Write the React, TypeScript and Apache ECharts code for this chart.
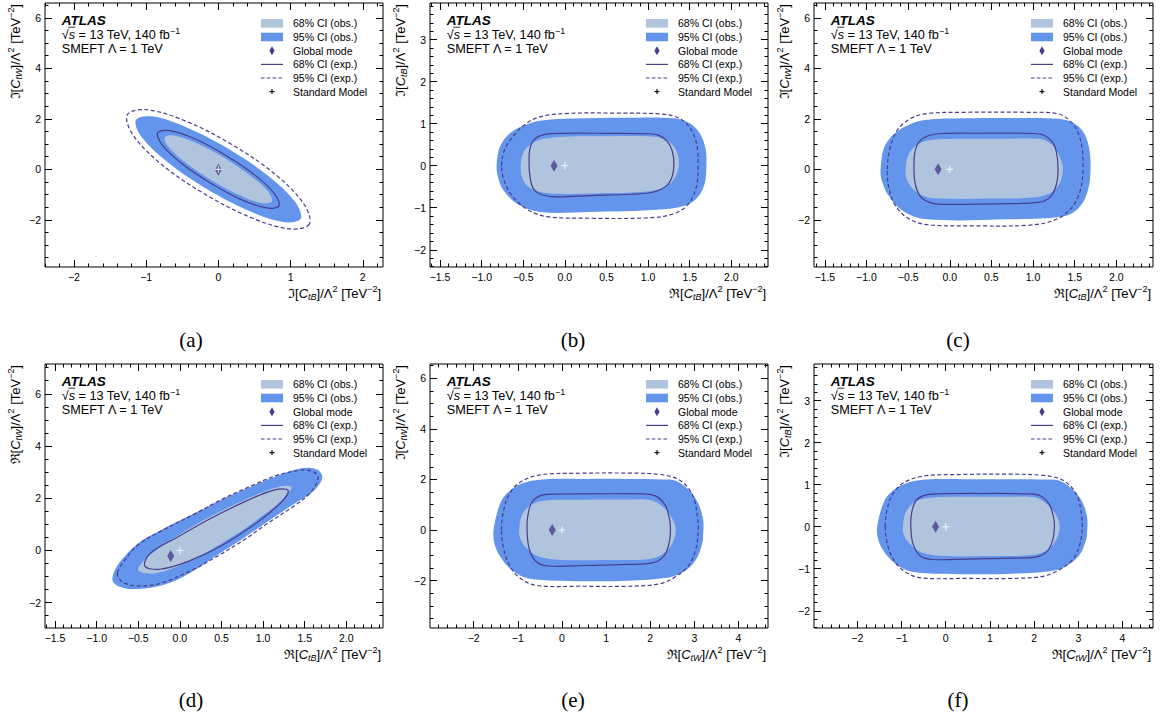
import React, { useEffect, useRef } from "react";
import * as echarts from "echarts";

// ---------------- tick labels ----------------
const X_TICKS_A = [-2, -1, 0, 1, 2];
const X_TICKS_HALF = [-1.5, -1.0, -0.5, 0.0, 0.5, 1.0, 1.5, 2.0];
const X_TICKS_UNIT = [-2, -1, 0, 1, 2, 3, 4];
const Y_TICKS_EVEN = [-2, 0, 2, 4, 6];
const Y_TICKS_UNIT = [-2, -1, 0, 1, 2, 3];

// ---------------- texts ----------------
const LEGEND_LABELS = ["68% CI (obs.)", "95% CI (obs.)", "Global mode", "68% CI (exp.)", "95% CI (exp.)", "Standard Model"];
const CAPTIONS = ["(a)", "(b)", "(c)", "(d)", "(e)", "(f)"];
const X_TITLES = [["ℑ", "tB"], ["ℜ", "tB"], ["ℜ", "tB"], ["ℜ", "tB"], ["ℜ", "tW"], ["ℜ", "tW"]];
const Y_TITLES = [["ℑ", "tW"], ["ℑ", "tB"], ["ℑ", "tW"], ["ℜ", "tW"], ["ℑ", "tW"], ["ℑ", "tB"]];

// ---------------- points ----------------
const SM_POINT = [0, 0];
const MODE_A = [0.0, -0.02];
const MODE_B = [-0.13, 0.0];
const MODE_C = [-0.14, 0.0];
const MODE_D = [-0.11, -0.21];
const MODE_E = [-0.22, 0.0];
const MODE_F = [-0.23, 0.0];

// ---------------- panel (a) contours ----------------
const A_OBS95 = [[1.14, -1.96], [0.9, -2.09], [0.43, -1.65], [-0.16, -0.78], [-0.71, 0.3], [-1.07, 1.31], [-1.14, 1.96], [-0.9, 2.09], [-0.43, 1.65], [0.16, 0.78], [0.71, -0.3], [1.07, -1.31]];
const A_OBS68 = [[0.74, -1.28], [0.59, -1.33], [0.29, -1.02], [-0.09, -0.44], [-0.45, 0.26], [-0.69, 0.88], [-0.74, 1.28], [-0.59, 1.33], [-0.29, 1.02], [0.09, 0.44], [0.45, -0.26], [0.69, -0.88]];
const A_EXP68 = [[0.84, -1.45], [0.67, -1.53], [0.32, -1.2], [-0.11, -0.54], [-0.52, 0.26], [-0.78, 0.98], [-0.84, 1.45], [-0.67, 1.53], [-0.32, 1.2], [0.11, 0.54], [0.52, -0.26], [0.78, -0.98]];
const A_EXP95 = [[1.26, -2.17], [0.99, -2.36], [0.46, -1.92], [-0.2, -0.96], [-0.81, 0.25], [-1.19, 1.4], [-1.26, 2.17], [-0.99, 2.36], [-0.46, 1.92], [0.2, 0.96], [0.81, -0.25], [1.19, -1.4]];

// ---------------- panel (b) contours ----------------
const B_OBS95 = [[-0.82, 0.0], [-0.78, 0.45], [-0.66, 0.77], [-0.5, 0.95], [-0.3, 1.07], [0.1, 1.12], [0.7, 1.14], [1.3, 1.13], [1.5, 1.01], [1.62, 0.77], [1.69, 0.4], [1.7, 0.0], [1.68, -0.42], [1.6, -0.74], [1.46, -0.94], [1.1, -1.05], [0.3, -1.1], [-0.3, -1.1], [-0.58, -0.9], [-0.74, -0.58], [-0.8, -0.3]];
const B_OBS68 = [[-0.53, 0.0], [-0.5, 0.3], [-0.4, 0.52], [-0.25, 0.64], [0.0, 0.69], [0.5, 0.7], [1.0, 0.7], [1.15, 0.66], [1.28, 0.52], [1.35, 0.3], [1.37, 0.05], [1.34, -0.22], [1.25, -0.45], [1.1, -0.58], [0.8, -0.64], [0.3, -0.66], [-0.1, -0.67], [-0.3, -0.62], [-0.44, -0.5], [-0.51, -0.3]];
const B_EXP68 = [[-0.43, 0.05], [-0.42, 0.4], [-0.37, 0.62], [-0.25, 0.74], [-0.05, 0.77], [0.5, 0.77], [1.0, 0.76], [1.13, 0.72], [1.23, 0.58], [1.29, 0.35], [1.31, 0.05], [1.29, -0.25], [1.22, -0.48], [1.08, -0.62], [0.8, -0.68], [0.3, -0.71], [-0.1, -0.74], [-0.28, -0.69], [-0.38, -0.54], [-0.42, -0.25]];
const B_EXP95 = [[-0.76, 0.0], [-0.73, 0.35], [-0.64, 0.65], [-0.5, 0.95], [-0.32, 1.15], [0.0, 1.24], [0.6, 1.25], [1.2, 1.22], [1.4, 1.1], [1.52, 0.85], [1.59, 0.45], [1.6, 0.0], [1.58, -0.5], [1.48, -0.92], [1.3, -1.15], [1.0, -1.24], [0.3, -1.25], [-0.22, -1.21], [-0.46, -1.03], [-0.64, -0.7], [-0.73, -0.35]];

// ---------------- panel (c) contours ----------------
const C_OBS95 = [[-0.83, 0.0], [-0.79, 0.85], [-0.67, 1.4], [-0.5, 1.75], [-0.3, 1.95], [0.2, 2.02], [0.8, 2.03], [1.3, 2.0], [1.48, 1.85], [1.6, 1.5], [1.67, 0.9], [1.69, 0.0], [1.66, -0.82], [1.56, -1.48], [1.38, -1.85], [0.7, -1.98], [-0.3, -1.97], [-0.58, -1.61], [-0.74, -1.02], [-0.82, -0.4]];
const C_OBS68 = [[-0.53, 0.0], [-0.5, 0.55], [-0.4, 0.95], [-0.25, 1.15], [0.0, 1.2], [0.6, 1.21], [1.06, 1.21], [1.18, 1.09], [1.28, 0.76], [1.35, 0.2], [1.35, -0.25], [1.3, -0.65], [1.2, -0.95], [1.0, -1.12], [0.5, -1.16], [-0.1, -1.16], [-0.3, -1.08], [-0.45, -0.75], [-0.52, -0.35]];
const C_EXP68 = [[-0.43, 0.0], [-0.42, 0.65], [-0.37, 1.08], [-0.26, 1.33], [-0.08, 1.42], [0.3, 1.43], [1.0, 1.42], [1.13, 1.35], [1.23, 1.1], [1.28, 0.7], [1.3, 0.0], [1.28, -0.6], [1.21, -1.08], [1.08, -1.3], [0.7, -1.36], [0.0, -1.39], [-0.2, -1.35], [-0.34, -1.12], [-0.41, -0.65]];
const C_EXP95 = [[-0.75, 0.0], [-0.72, 0.8], [-0.64, 1.5], [-0.5, 1.95], [-0.3, 2.2], [0.2, 2.26], [0.9, 2.26], [1.3, 2.2], [1.45, 1.9], [1.54, 1.45], [1.59, 0.8], [1.6, 0.0], [1.57, -0.8], [1.48, -1.45], [1.3, -1.95], [1.0, -2.2], [0.3, -2.24], [-0.3, -2.18], [-0.52, -1.9], [-0.66, -1.4], [-0.73, -0.75]];

// ---------------- panel (d) contours ----------------
const D_OBS95 = [[-0.81, -1.06], [-0.78, -0.75], [-0.7, -0.36], [-0.5, 0.28], [-0.22, 0.79], [0.18, 1.43], [0.5, 1.94], [0.82, 2.4], [1.14, 2.82], [1.38, 3.09], [1.54, 3.17], [1.66, 3.08], [1.71, 2.84], [1.68, 2.55], [1.58, 2.2], [1.38, 1.8], [1.06, 1.12], [0.76, 0.46], [0.45, -0.17], [0.18, -0.75], [-0.05, -1.15], [-0.3, -1.4], [-0.58, -1.48], [-0.73, -1.38], [-0.8, -1.22]];
const D_OBS68 = [[1.34, 2.43], [1.25, 2.01], [0.94, 1.2], [0.49, 0.25], [0.05, -0.5], [-0.3, -0.88], [-0.5, -0.76], [-0.41, -0.32], [-0.1, 0.42], [0.35, 1.27], [0.82, 2.0], [1.18, 2.43]];
const D_EXP68 = [[1.3, 2.3], [1.22, 1.85], [0.94, 1.1], [0.52, 0.22], [0.1, -0.42], [-0.24, -0.72], [-0.42, -0.6], [-0.36, -0.12], [-0.04, 0.49], [0.38, 1.24], [0.8, 1.9], [1.14, 2.32]];
const D_EXP95 = [[-0.75, -0.85], [-0.68, -0.45], [-0.5, 0.22], [-0.22, 0.75], [0.18, 1.4], [0.5, 1.95], [0.82, 2.42], [1.14, 2.85], [1.38, 3.04], [1.52, 3.08], [1.62, 2.98], [1.66, 2.8], [1.63, 2.5], [1.55, 2.15], [1.38, 1.72], [1.06, 1.05], [0.76, 0.38], [0.45, -0.22], [0.18, -0.7], [-0.22, -1.25], [-0.5, -1.36], [-0.66, -1.26], [-0.73, -1.08]];

// ---------------- panel (e) contours ----------------
const E_OBS95 = [[-1.55, 0.0], [-1.4, 1.05], [-1.21, 1.51], [-0.91, 1.84], [-0.45, 2.0], [0.5, 2.02], [1.5, 2.02], [2.3, 2.0], [2.58, 1.95], [2.88, 1.58], [3.09, 1.05], [3.2, 0.4], [3.2, -0.2], [3.18, -0.53], [3.03, -1.19], [2.76, -1.65], [2.42, -1.87], [1.5, -2.0], [0.5, -2.02], [-0.76, -1.91], [-1.14, -1.58], [-1.4, -1.05], [-1.53, -0.53]];
const E_OBS68 = [[-0.97, 0.0], [-0.9, 0.6], [-0.7, 1.0], [-0.4, 1.16], [0.3, 1.2], [1.5, 1.21], [2.0, 1.19], [2.27, 0.95], [2.5, 0.45], [2.58, 0.0], [2.5, -0.53], [2.31, -0.92], [2.0, -1.14], [1.0, -1.18], [0.0, -1.18], [-0.53, -1.05], [-0.83, -0.66], [-0.95, -0.3]];
const E_EXP68 = [[-0.79, 0.0], [-0.77, 0.6], [-0.68, 1.1], [-0.5, 1.35], [-0.2, 1.42], [0.8, 1.43], [1.9, 1.42], [2.15, 1.32], [2.35, 0.95], [2.44, 0.4], [2.46, 0.0], [2.42, -0.59], [2.3, -1.05], [2.05, -1.3], [1.5, -1.36], [0.5, -1.4], [-0.3, -1.42], [-0.58, -1.25], [-0.74, -0.75]];
const E_EXP95 = [[-1.37, 0.0], [-1.33, 0.7], [-1.22, 1.32], [-0.99, 1.84], [-0.53, 2.17], [0.3, 2.24], [1.5, 2.25], [2.2, 2.2], [2.58, 2.05], [2.82, 1.75], [2.99, 1.25], [3.07, 0.53], [3.09, 0.0], [3.03, -0.79], [2.88, -1.38], [2.58, -1.84], [2.2, -2.13], [1.5, -2.22], [0.5, -2.22], [-0.6, -2.18], [-0.99, -1.84], [-1.21, -1.32], [-1.33, -0.66]];

// ---------------- panel (f) contours ----------------
const F_OBS95 = [[-1.55, 0.0], [-1.4, 0.59], [-1.21, 0.85], [-0.91, 1.03], [-0.45, 1.12], [0.5, 1.13], [1.5, 1.13], [2.3, 1.12], [2.58, 1.09], [2.88, 0.88], [3.09, 0.59], [3.2, 0.22], [3.2, -0.11], [3.18, -0.3], [3.03, -0.67], [2.76, -0.92], [2.42, -1.05], [1.5, -1.12], [0.5, -1.13], [-0.76, -1.07], [-1.14, -0.88], [-1.4, -0.59], [-1.53, -0.3]];
const F_OBS68 = [[-0.97, 0.0], [-0.9, 0.35], [-0.7, 0.59], [-0.4, 0.68], [0.3, 0.71], [1.5, 0.71], [2.0, 0.7], [2.27, 0.56], [2.5, 0.27], [2.58, 0.0], [2.5, -0.31], [2.31, -0.54], [2.0, -0.67], [1.0, -0.7], [0.0, -0.7], [-0.53, -0.62], [-0.83, -0.39], [-0.95, -0.18]];
const F_EXP68 = [[-0.79, 0.0], [-0.77, 0.33], [-0.68, 0.61], [-0.5, 0.74], [-0.2, 0.78], [0.8, 0.79], [1.9, 0.78], [2.15, 0.73], [2.35, 0.52], [2.44, 0.22], [2.46, 0.0], [2.42, -0.32], [2.3, -0.58], [2.05, -0.72], [1.5, -0.75], [0.5, -0.77], [-0.3, -0.78], [-0.58, -0.69], [-0.74, -0.41]];
const F_EXP95 = [[-1.37, 0.0], [-1.33, 0.39], [-1.22, 0.73], [-0.99, 1.02], [-0.53, 1.2], [0.3, 1.24], [1.5, 1.25], [2.2, 1.22], [2.58, 1.14], [2.82, 0.97], [2.99, 0.69], [3.07, 0.29], [3.09, 0.0], [3.03, -0.44], [2.88, -0.77], [2.58, -1.02], [2.2, -1.18], [1.5, -1.23], [0.5, -1.23], [-0.6, -1.21], [-0.99, -1.02], [-1.21, -0.73], [-1.33, -0.37]];

// ---------------- panels: data + axis ranges ----------------
const PANELS = [
  { xRange: [-2.4, 2.28], yRange: [-3.87, 6.59], xTicks: X_TICKS_A, yTicks: Y_TICKS_EVEN, xMinor: 0.2, yMinor: 0.5, xDec: 0, obs95: A_OBS95, obs68: A_OBS68, exp68: A_EXP68, exp95: A_EXP95, mode: MODE_A },
  { xRange: [-1.62, 2.44], yRange: [-2.41, 3.87], xTicks: X_TICKS_HALF, yTicks: Y_TICKS_UNIT, xMinor: 0.1, yMinor: 0.2, xDec: 1, obs95: B_OBS95, obs68: B_OBS68, exp68: B_EXP68, exp95: B_EXP95, mode: MODE_B },
  { xRange: [-1.63, 2.44], yRange: [-3.87, 6.59], xTicks: X_TICKS_HALF, yTicks: Y_TICKS_EVEN, xMinor: 0.1, yMinor: 0.5, xDec: 1, obs95: C_OBS95, obs68: C_OBS68, exp68: C_EXP68, exp95: C_EXP95, mode: MODE_C },
  { xRange: [-1.62, 2.44], yRange: [-2.97, 7.14], xTicks: X_TICKS_HALF, yTicks: Y_TICKS_EVEN, xMinor: 0.1, yMinor: 0.5, xDec: 1, obs95: D_OBS95, obs68: D_OBS68, exp68: D_EXP68, exp95: D_EXP95, mode: MODE_D },
  { xRange: [-2.99, 4.67], yRange: [-3.87, 6.56], xTicks: X_TICKS_UNIT, yTicks: Y_TICKS_EVEN, xMinor: 0.2, yMinor: 0.5, xDec: 0, obs95: E_OBS95, obs68: E_OBS68, exp68: E_EXP68, exp95: E_EXP95, mode: MODE_E },
  { xRange: [-2.98, 4.69], yRange: [-2.41, 3.87], xTicks: X_TICKS_UNIT, yTicks: Y_TICKS_UNIT, xMinor: 0.2, yMinor: 0.2, xDec: 0, obs95: F_OBS95, obs68: F_OBS68, exp68: F_EXP68, exp95: F_EXP95, mode: MODE_F },
];

// ---------------- layout (pixels) ----------------
const LAYOUT = [
  { left: 45, top: 3, width: 338, height: 264, capX: 191, capY: 340 },
  { left: 430, top: 3, width: 338, height: 264, capX: 573, capY: 340 },
  { left: 814, top: 3, width: 339, height: 264, capX: 958, capY: 340 },
  { left: 45, top: 364, width: 338, height: 264, capX: 191, capY: 700 },
  { left: 430, top: 364, width: 338, height: 264, capX: 573, capY: 700 },
  { left: 814, top: 364, width: 339, height: 264, capX: 958, capY: 700 },
];

const FONT = "'Liberation Sans', Arial, Helvetica, sans-serif";
const SERIF = "'Liberation Serif', 'DejaVu Serif', serif";
const COL_OBS95 = "#6495ED";
const COL_OBS68 = "#B0C4DE";
const COL_LINE = "#483D8B";
const PLUS_PATH = "path://M4.2,0H5.8V4.2H10V5.8H5.8V10H4.2V5.8H0V4.2H4.2Z";

function minorTicks(lo: number, hi: number, step: number) {
  const out: number[] = [];
  const start = Math.ceil(lo / step - 1e-9);
  for (let k = start; k * step <= hi + 1e-9; k++) out.push(+(k * step).toFixed(4));
  return out;
}

function fmt(v: number, dec: number) {
  const s = dec > 0 ? Number(v).toFixed(dec) : String(Math.round(v));
  return s.replace("-", "\u2212");
}

function axis(gridIndex: number, position: string, range: number[], ticks: number[], len: number, labels: boolean, dec: number) {
  return {
    type: "value",
    gridIndex,
    position,
    min: range[0],
    max: range[1],
    axisLine: { show: false, onZero: false },
    splitLine: { show: false },
    axisPointer: { show: false },
    axisTick: { show: true, inside: true, length: len, customValues: ticks, lineStyle: { color: "#000", width: 1 } },
    axisLabel: labels
      ? { show: true, customValues: ticks, margin: 4, fontSize: 10.5, fontFamily: FONT, color: "#000", formatter: (v: number) => fmt(v, dec) }
      : { show: false },
  };
}

const TITLE_RICH = {
  n: { fontSize: 13, fontFamily: FONT, fill: "#000", lineHeight: 17 },
  i: { fontSize: 13, fontFamily: FONT, fontStyle: "italic", fill: "#000", lineHeight: 17 },
  s: { fontSize: 9, fontFamily: FONT, fontStyle: "italic", fill: "#000", verticalAlign: "bottom", lineHeight: 10.5 },
  p: { fontSize: 9, fontFamily: FONT, fill: "#000", verticalAlign: "top", lineHeight: 10.5 },
};

function titleText(t: string[]) {
  return `{n|${t[0]}[}{i|C}{s|${t[1]}}{n|]/Λ}{p|2}{n| [TeV}{p|\u22122}{n|]}`;
}

function polyRenderer(pts: number[][], style: any) {
  return (params: any, api: any) => {
    if (params.dataIndex !== 0) return;
    const points = pts.map((p) => api.coord(p));
    return { type: "polygon", shape: { points, smooth: 0.35 }, style };
  };
}

function buildOption() {
  const grid: any[] = [];
  const xAxis: any[] = [];
  const yAxis: any[] = [];
  const series: any[] = [];
  const graphic: any[] = [];

  PANELS.forEach((p, gi) => {
    const L = LAYOUT[gi];
    const R = L.left + L.width;
    const T = L.top;
    grid.push({
      left: L.left, top: L.top, width: L.width, height: L.height,
      show: true, borderColor: "#000", borderWidth: 1, backgroundColor: "rgba(0,0,0,0)",
      containLabel: false, outerBoundsMode: "none",
    });
    const xi = xAxis.length;
    const yi = yAxis.length;
    const xMin = minorTicks(p.xRange[0], p.xRange[1], p.xMinor);
    const yMin = minorTicks(p.yRange[0], p.yRange[1], p.yMinor);
    xAxis.push(axis(gi, "bottom", p.xRange, p.xTicks, 7, true, p.xDec));
    xAxis.push(axis(gi, "bottom", p.xRange, xMin, 3.5, false, 0));
    xAxis.push(axis(gi, "top", p.xRange, p.xTicks, 7, false, 0));
    xAxis.push(axis(gi, "top", p.xRange, xMin, 3.5, false, 0));
    yAxis.push(axis(gi, "left", p.yRange, p.yTicks, 7, true, 0));
    yAxis.push(axis(gi, "left", p.yRange, yMin, 3.5, false, 0));
    yAxis.push(axis(gi, "right", p.yRange, p.yTicks, 7, false, 0));
    yAxis.push(axis(gi, "right", p.yRange, yMin, 3.5, false, 0));

    const base = { xAxisIndex: xi, yAxisIndex: yi, silent: true, animation: false };
    series.push({ ...base, type: "custom", name: "95% CI (obs.)", data: p.obs95, renderItem: polyRenderer(p.obs95, { fill: COL_OBS95, stroke: "none" }) });
    series.push({ ...base, type: "custom", name: "68% CI (obs.)", data: p.obs68, renderItem: polyRenderer(p.obs68, { fill: COL_OBS68, stroke: "none" }) });
    series.push({ ...base, type: "custom", name: "68% CI (exp.)", data: p.exp68, renderItem: polyRenderer(p.exp68, { fill: "none", stroke: COL_LINE, lineWidth: 1.2 }) });
    series.push({ ...base, type: "custom", name: "95% CI (exp.)", data: p.exp95, renderItem: polyRenderer(p.exp95, { fill: "none", stroke: COL_LINE, lineWidth: 1.2, lineDash: [4, 2.5] }) });
    series.push({ ...base, type: "scatter", name: "Global mode", data: [p.mode], symbol: "diamond", symbolSize: [7, 12], itemStyle: { color: COL_LINE } });
    series.push({ ...base, type: "scatter", name: "Standard Model", data: [SM_POINT], symbol: PLUS_PATH, symbolSize: 7, itemStyle: { color: "#fff" } });

    // ---- text block ----
    const tx = L.left + 16.7;
    graphic.push({ type: "text", x: tx, y: T + 17.7, silent: true, style: { text: "ATLAS", fontSize: 13.5, fontWeight: "bold", fontStyle: "italic", fontFamily: FONT, fill: "#000", verticalAlign: "middle" } });
    graphic.push({
      type: "text", x: tx, y: T + 31.5, silent: true,
      style: {
        text: "{n|\u221A}{i|s}{n| = 13 TeV, 140 fb}{p|\u22121}", verticalAlign: "middle",
        rich: {
          n: { fontSize: 12.7, fontFamily: FONT, fill: "#000", lineHeight: 16 },
          i: { fontSize: 12.7, fontFamily: FONT, fontStyle: "italic", fill: "#000", lineHeight: 16 },
          p: { fontSize: 8.8, fontFamily: FONT, fill: "#000", verticalAlign: "top", lineHeight: 10 },
        },
      },
    });
    graphic.push({ type: "line", silent: true, shape: { x1: tx + 6.6, y1: T + 24.2, x2: tx + 13.6, y2: T + 24.2 }, style: { stroke: "#000", lineWidth: 0.8 } });
    graphic.push({ type: "text", x: tx, y: T + 46.3, silent: true, style: { text: "SMEFT \u039B = 1 TeV", fontSize: 12.7, fontFamily: FONT, fill: "#000", verticalAlign: "middle" } });

    // ---- legend ----
    const rows = [20.3, 34.0, 47.7, 61.4, 75.0, 88.6];
    const lx = R - 122;
    const cx = R - 111;
    graphic.push({ type: "rect", silent: true, shape: { x: lx, y: T + rows[0] - 4.3, width: 22, height: 8.6 }, style: { fill: COL_OBS68 } });
    graphic.push({ type: "rect", silent: true, shape: { x: lx, y: T + rows[1] - 4.3, width: 22, height: 8.6 }, style: { fill: COL_OBS95 } });
    graphic.push({ type: "polygon", silent: true, shape: { points: [[cx, T + rows[2] - 4.5], [cx + 2.6, T + rows[2]], [cx, T + rows[2] + 4.5], [cx - 2.6, T + rows[2]]] }, style: { fill: COL_LINE } });
    graphic.push({ type: "line", silent: true, shape: { x1: lx, y1: T + rows[3], x2: lx + 22, y2: T + rows[3] }, style: { stroke: COL_LINE, lineWidth: 1.2 } });
    graphic.push({ type: "line", silent: true, shape: { x1: lx, y1: T + rows[4], x2: lx + 22, y2: T + rows[4] }, style: { stroke: COL_LINE, lineWidth: 1.2, lineDash: [3.6, 2.2] } });
    graphic.push({ type: "line", silent: true, shape: { x1: cx - 2.5, y1: T + rows[5], x2: cx + 2.5, y2: T + rows[5] }, style: { stroke: "#000", lineWidth: 1.1 } });
    graphic.push({ type: "line", silent: true, shape: { x1: cx, y1: T + rows[5] - 2.5, x2: cx, y2: T + rows[5] + 2.5 }, style: { stroke: "#000", lineWidth: 1.1 } });
    LEGEND_LABELS.forEach((lab, k) => {
      graphic.push({ type: "text", silent: true, x: R - 90, y: T + rows[k], style: { text: lab, fontSize: 10.5, fontFamily: FONT, fill: "#000", verticalAlign: "middle" } });
    });

    // ---- axis titles ----
    graphic.push({ type: "text", silent: true, x: R - 2, y: T + L.height + 26.3, style: { text: titleText(X_TITLES[gi]), align: "right", verticalAlign: "middle", rich: TITLE_RICH } });
    graphic.push({ type: "text", silent: true, x: L.left - 30, y: T + 1, rotation: Math.PI / 2, style: { text: titleText(Y_TITLES[gi]), align: "right", verticalAlign: "middle", rich: TITLE_RICH } });

    // ---- caption ----
    graphic.push({ type: "text", silent: true, x: L.capX, y: L.capY, style: { text: CAPTIONS[gi], fontSize: 21, fontFamily: SERIF, fill: "#000", align: "center", verticalAlign: "middle" } });
  });

  return { animation: false, backgroundColor: "#fff", grid, xAxis, yAxis, series, graphic };
}

export default function App() {
  const ref = useRef<HTMLDivElement>(null);
  useEffect(() => {
    if (!ref.current) return;
    const chart = echarts.init(ref.current, undefined, { renderer: "svg" });
    chart.setOption(buildOption() as any);
    return () => chart.dispose();
  }, []);
  return <div ref={ref} style={{ position: "fixed", left: 0, top: 0, width: 1161, height: 720, background: "#fff" }} />;
}
